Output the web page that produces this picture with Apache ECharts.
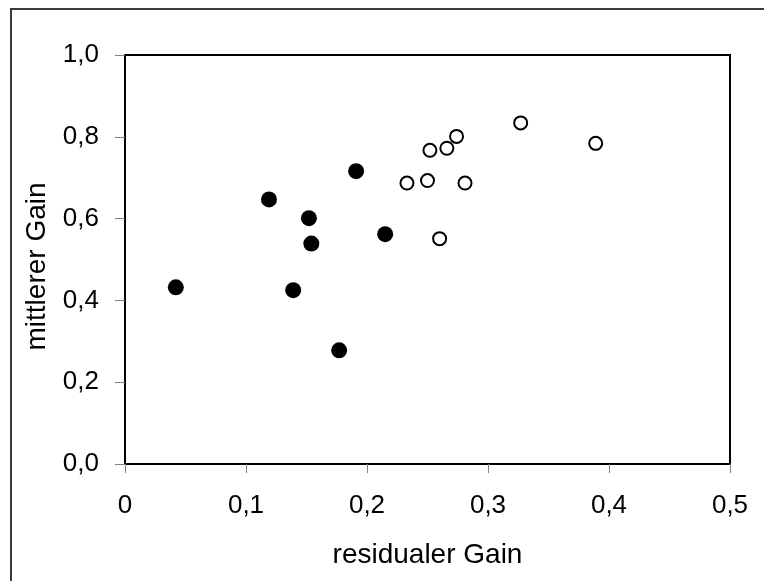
<!DOCTYPE html>
<html>
<head>
<meta charset="utf-8">
<script src="https://cdn.jsdelivr.net/npm/echarts@6/dist/echarts.min.js"></script>
<style>
  html, body { margin: 0; padding: 0; background: #fff; }
  #chart { width: 764px; height: 581px; }
</style>
</head>
<body>
<div id="chart"></div>
<script>
// Gruppe 1 (gefüllte Kreise): residualer Gain / mittlerer Gain
const residualFilled = [0.042, 0.119, 0.139, 0.152, 0.154, 0.177, 0.191, 0.215];
const meanFilled     = [0.432, 0.647, 0.425, 0.601, 0.539, 0.278, 0.716, 0.562];

// Gruppe 2 (offene Kreise)
const residualOpen = [0.233, 0.250, 0.252, 0.260, 0.266, 0.274, 0.281, 0.327, 0.389];
const meanOpen     = [0.687, 0.693, 0.767, 0.551, 0.772, 0.801, 0.687, 0.834, 0.784];

// Achsenbeschriftungen
const xTickLabels = ['0', '0,1', '0,2', '0,3', '0,4', '0,5'];
const yTickLabels = ['0,0', '0,2', '0,4', '0,6', '0,8', '1,0'];

const pairs = (xs, ys) => xs.map((x, i) => [x, ys[i]]);

const font = 'Liberation Sans, Arial, sans-serif';

const chart = echarts.init(document.getElementById('chart'), null, { renderer: 'canvas' });

chart.setOption({
  animation: false,
  backgroundColor: '#fff',
  graphic: [{
    type: 'rect',
    silent: true,
    shape: { x: 11, y: 9, width: 800, height: 620 },
    style: { fill: 'none', stroke: '#3a3a3a', lineWidth: 2 }
  }],
  grid: {
    left: 125, top: 55, right: 34, bottom: 117,
    show: true, borderColor: '#000', borderWidth: 2, backgroundColor: 'transparent'
  },
  xAxis: {
    type: 'value',
    min: 0, max: 0.5, interval: 0.1,
    name: 'residualer Gain',
    nameLocation: 'middle',
    nameGap: 77,
    nameTextStyle: { fontFamily: font, fontSize: 28, color: '#000' },
    splitLine: { show: false },
    axisLine: { onZero: false, lineStyle: { color: '#000', width: 2 } },
    axisTick: { show: true, length: 9, lineStyle: { color: '#808080', width: 1 } },
    axisLabel: {
      margin: 29, fontFamily: font, fontSize: 26, color: '#000',
      formatter: (v) => xTickLabels[Math.round(v * 10)]
    }
  },
  yAxis: {
    type: 'value',
    min: 0, max: 1, interval: 0.2,
    name: 'mittlerer Gain',
    nameLocation: 'middle',
    nameGap: 74,
    nameTextStyle: { fontFamily: font, fontSize: 28, color: '#000', padding: [0, 14, 0, 0] },
    splitLine: { show: false },
    axisLine: { onZero: false, lineStyle: { color: '#000', width: 2 } },
    axisTick: { show: true, length: 10, lineStyle: { color: '#808080', width: 1 } },
    axisLabel: {
      margin: 26, fontFamily: font, fontSize: 26, color: '#000',
      formatter: (v) => yTickLabels[Math.round(v * 5)]
    }
  },
  series: [
    {
      type: 'scatter',
      data: pairs(residualFilled, meanFilled),
      symbol: 'circle',
      symbolSize: 16,
      itemStyle: { color: '#000', opacity: 1 }
    },
    {
      type: 'scatter',
      data: pairs(residualOpen, meanOpen),
      symbol: 'circle',
      symbolSize: 13,
      itemStyle: { color: '#fff', borderColor: '#000', borderWidth: 2, opacity: 1 }
    }
  ]
});
</script>
</body>
</html>
